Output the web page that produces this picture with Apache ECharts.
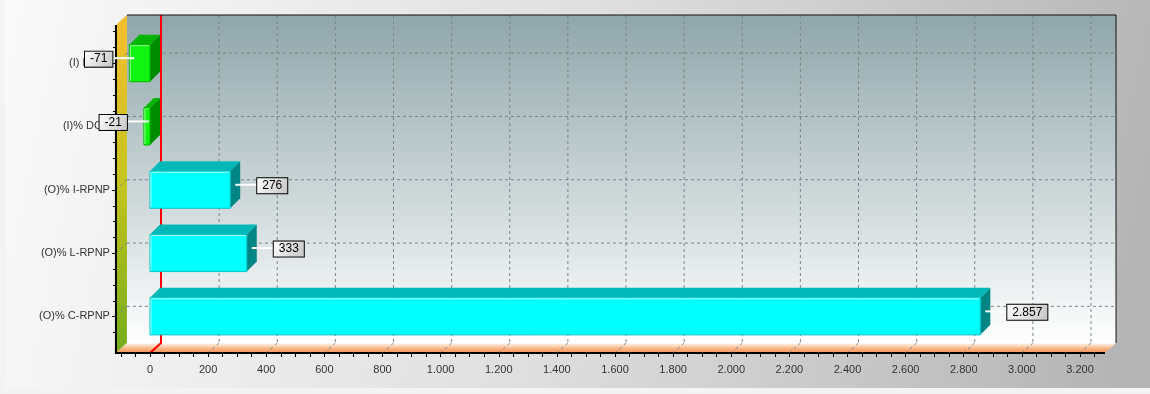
<!DOCTYPE html>
<html>
<head>
<meta charset="utf-8">
<script src="https://cdn.jsdelivr.net/npm/echarts@6/dist/echarts.min.js"></script>
<style>
  html, body { margin: 0; padding: 0; background: #f3f3f3; }
  #chart { width: 1150px; height: 394px; }
</style>
</head>
<body>
<div id="chart"></div>
<script>
// Categories (top to bottom) and their values
const categories = ['(I) DC-R', '(I)% DCR', '(O)% I-RPNP', '(O)% L-RPNP', '(O)% C-RPNP'];
const values = [-71, -21, 276, 333, 2857];

// Value axis range, tick step and labelled step
const xMin = -100;
const xMax = 3250;
const xTickStep = 50;
const xLabelStep = 200;
// Vertical grid lines drawn on the back wall
const xGridValues = [200, 400, 600, 800, 1000, 1200, 1400, 1600, 1800, 2000, 2200, 2400, 2600, 2800, 3000, 3200];

// 3D depth of walls and bars
const WALL_DX = 11, WALL_DY = 10;
const BAR_D = 10;

const fmt = v => (v < 0 ? '-' : '') + String(Math.abs(v)).replace(/\B(?=(\d{3})+(?!\d))/g, '.');

const chart = echarts.init(document.getElementById('chart'));
const LG = echarts.graphic.LinearGradient;
const FONT_FAMILY = '"Liberation Sans", Arial, sans-serif';

function dashed(x1, y1, x2, y2) {
  return { type: 'line', shape: { x1, y1, x2, y2 }, silent: true,
    style: { stroke: '#7b858a', lineWidth: 1, lineDash: [3, 3] } };
}

// Walls, floor, grid lines, zero line and axis lines
function renderFrame(params, api) {
  const cs = params.coordSys;
  const fl = cs.x - 5, fr = cs.x + cs.width + 10.5;
  const ft = cs.y - 6.5, fb = cs.y + cs.height + 5;
  const ch = [];
  ch.push({ type: 'rect', shape: { x: fl + WALL_DX, y: ft - WALL_DY, width: fr - fl, height: fb - ft },
    style: { fill: new LG(0, 0, 0, 1, [{ offset: 0, color: '#8fa6aa' }, { offset: 1, color: '#ffffff' }]) } });
  ch.push({ type: 'polygon', shape: { points: [[fl, ft], [fl + WALL_DX, ft - WALL_DY], [fl + WALL_DX, fb - WALL_DY], [fl, fb]] },
    style: { fill: new LG(0, 0, 0, 1, [{ offset: 0, color: '#f6be2e' }, { offset: 0.5, color: '#c4c41e' }, { offset: 1, color: '#74ac1c' }]) } });
  ch.push({ type: 'polygon', shape: { points: [[fl, fb], [fl + WALL_DX, fb - WALL_DY], [fr + WALL_DX, fb - WALL_DY], [fr, fb]] },
    style: { fill: new LG(0, 0, 0, 1, [{ offset: 0, color: '#ffffff' }, { offset: 0.15, color: '#fde6d6' }, { offset: 0.6, color: '#f8b07c' }, { offset: 1, color: '#f5935a' }]) } });
  // horizontal grid lines
  categories.forEach((c, i) => {
    const y = api.coord([0, i])[1];
    ch.push(dashed(fl + WALL_DX, y - WALL_DY, fr + WALL_DX, y - WALL_DY));
    ch.push(dashed(fl, y, fl + WALL_DX, y - WALL_DY));
  });
  // vertical grid lines
  xGridValues.forEach(v => {
    const x = api.coord([v, 0])[0];
    ch.push(dashed(x + WALL_DX, ft - WALL_DY, x + WALL_DX, fb - WALL_DY));
    ch.push(dashed(x + WALL_DX, fb - WALL_DY, x, fb));
  });
  // zero line
  const x0 = api.coord([0, 0])[0];
  ch.push({ type: 'polyline', shape: { points: [[x0 + WALL_DX, ft - WALL_DY], [x0 + WALL_DX, fb - WALL_DY], [x0, fb]] },
    style: { stroke: '#ff0000', lineWidth: 2, fill: null } });
  // back wall border
  ch.push({ type: 'polyline', shape: { points: [[fl + WALL_DX, ft - WALL_DY], [fr + WALL_DX, ft - WALL_DY], [fr + WALL_DX, fb - WALL_DY]] },
    style: { stroke: '#111', lineWidth: 1, fill: null } });
  // axis lines
  ch.push({ type: 'polyline', shape: { points: [[fl, ft], [fl, fb], [fr, fb]] },
    style: { stroke: '#000', lineWidth: 2, fill: null } });
  // left axis ticks (major at categories, minor in quarters)
  const band = api.size([0, 1])[1];
  categories.forEach((c, i) => {
    const yc = api.coord([0, i])[1];
    for (let j = -2; j <= 1; j++) {
      const y = Math.round(yc + j * band / 4) + 0.5;
      if (y < ft || y > fb) continue;
      const len = j === 0 ? 4 : 3;
      ch.push({ type: 'line', shape: { x1: fl - len, y1: y, x2: fl, y2: y }, style: { stroke: '#000', lineWidth: 1 } });
    }
  });
  return { type: 'group', children: ch };
}

// 3D bars: front face, top face and side face
function renderBar(params, api) {
  const v = api.value(0), i = api.value(1);
  const p0 = api.coord([0, i]), p1 = api.coord([v, i]);
  const h = api.size([0, 1])[1] * 0.585;
  const l = Math.min(p0[0], p1[0]), r = Math.max(p0[0], p1[0]);
  const t = p0[1] - h / 2, b = p0[1] + h / 2;
  const pos = v >= 0;
  const col = pos
    ? { front: '#00ffff', top: '#00b8b8', side: '#008585', edge: '#00c4c4', hi: '#a8ffff' }
    : { front: '#10f510', top: '#00b400', side: '#008c00', edge: '#00b800', hi: '#90ff90' };
  return { type: 'group', children: [
    { type: 'polygon', shape: { points: [[r, t], [r + BAR_D, t - BAR_D], [r + BAR_D, b - BAR_D], [r, b]] },
      style: { fill: col.side } },
    { type: 'polygon', shape: { points: [[l, t], [l + BAR_D, t - BAR_D], [r + BAR_D, t - BAR_D], [r, t]] },
      style: { fill: col.top } },
    { type: 'rect', shape: { x: l, y: t, width: r - l, height: h },
      style: { fill: col.front, stroke: col.edge, lineWidth: 1 } },
    { type: 'polyline', shape: { points: [[l + 1, b - 1], [l + 1, t + 1], [r - 1, t + 1]] },
      style: { stroke: col.hi, lineWidth: 1, fill: null } }
  ] };
}

// Value labels with leader lines
function renderLabel(params, api) {
  const v = api.value(0), i = api.value(1);
  const p1 = api.coord([v, i]);
  const ax = p1[0] + BAR_D / 2, ay = p1[1] - BAR_D / 2;
  const dir = v >= 0 ? 1 : -1;
  const bx = ax + dir * 22;
  return { type: 'group', children: [
    { type: 'line', shape: { x1: ax, y1: ay, x2: bx, y2: ay }, style: { stroke: '#ffffff', lineWidth: 2 } },
    { type: 'text', x: bx, y: ay + 1, style: {
      text: fmt(v), align: dir > 0 ? 'left' : 'right', verticalAlign: 'middle',
      font: '12px ' + FONT_FAMILY, fill: '#000', lineHeight: 13,
      padding: [1, 5, 1, 5], borderColor: '#000', borderWidth: 1,
      backgroundColor: new LG(0, 0, 1, 1, [{ offset: 0, color: '#ffffff' }, { offset: 1, color: '#c4c4c4' }])
    } }
  ] };
}

const barData = values.map((v, i) => [v, i]);

chart.setOption({
  animation: false,
  backgroundColor: new LG(0, 0, 1, 0.6, [
    { offset: 0, color: '#fafafa' }, { offset: 0.5, color: '#dfdfdf' }, { offset: 1, color: '#b4b4b4' }
  ]),
  graphic: [
    { type: 'rect', left: 0, top: 0, shape: { width: 5, height: 394 }, style: { fill: '#f3f3f3' }, silent: true },
    { type: 'rect', left: 0, top: 388, shape: { width: 1150, height: 6 }, style: { fill: '#f3f3f3' }, silent: true }
  ],
  grid: { left: 120.94, right: 55.47, top: 31.5, bottom: 46, containLabel: false },
  xAxis: {
    type: 'value', min: xMin, max: xMax, interval: xTickStep, offset: 5,
    axisLine: { show: false },
    axisTick: { show: true, length: 4, lineStyle: { color: '#000', width: 1 } },
    splitLine: { show: false },
    axisLabel: {
      margin: 11, fontSize: 11, color: '#333', fontFamily: FONT_FAMILY,
      formatter: v => (v >= 0 && v % xLabelStep === 0) ? fmt(v) : ''
    }
  },
  yAxis: {
    type: 'category', data: categories, inverse: true, offset: 5,
    axisLine: { show: false }, axisTick: { show: false }, splitLine: { show: false },
    axisLabel: { margin: 6, fontSize: 11, color: '#333', fontFamily: FONT_FAMILY }
  },
  series: [
    { type: 'custom', name: 'frame', z: 1, silent: true, clip: false,
      data: [[0, 0]], encode: { x: 0, y: 1 }, renderItem: renderFrame },
    { type: 'custom', name: 'bars', z: 3, clip: false,
      data: barData, encode: { x: 0, y: 1 }, renderItem: renderBar },
    { type: 'custom', name: 'labels', z: 5, clip: false, silent: true,
      data: barData, encode: { x: 0, y: 1 }, renderItem: renderLabel }
  ]
});
</script>
</body>
</html>
